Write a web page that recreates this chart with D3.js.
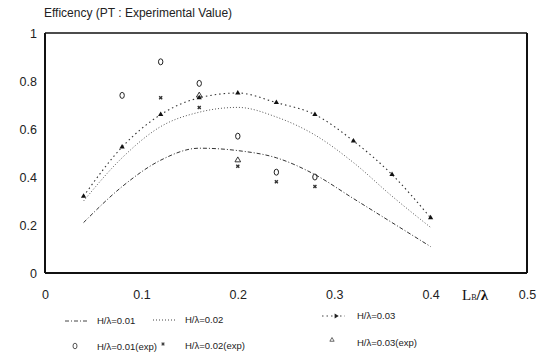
<!DOCTYPE html>
<html><head><meta charset="utf-8">
<script src="https://cdn.jsdelivr.net/npm/d3@7"></script>
<style>body{margin:0;background:#fff}svg{display:block}</style>
</head><body>
<svg id="c" width="542" height="362"></svg>
<script>
// ---- data ----
const xCalc = [0.04,0.08,0.12,0.16,0.20,0.24,0.28,0.32,0.36,0.40];
const calc01 = [0.21,0.36,0.47,0.52,0.51,0.48,0.41,0.31,0.21,0.11];
const calc02 = [0.30,0.48,0.61,0.67,0.69,0.65,0.575,0.46,0.32,0.19];
const calc03 = [0.32,0.525,0.66,0.73,0.75,0.71,0.66,0.55,0.41,0.23];
const xExp01 = [0.08,0.12,0.16,0.20,0.24,0.28];
const exp01  = [0.74,0.88,0.79,0.57,0.42,0.40];
const xExp02 = [0.12,0.16,0.20,0.24,0.28];
const exp02  = [0.73,0.69,0.445,0.38,0.36];
const xExp03 = [0.16,0.20];
const exp03  = [0.74,0.47];
const xTicks = [0,0.1,0.2,0.3,0.4,0.5];
const yTicks = [0,0.2,0.4,0.6,0.8,1];
const title = "Efficency (PT : Experimental Value)";
const legendLabels = ["H/λ=0.01","H/λ=0.02","H/λ=0.03","H/λ=0.01(exp)","H/λ=0.02(exp)","H/λ=0.03(exp)"];

const svg = d3.select("#c");
const x = d3.scaleLinear().domain([0,0.5]).range([45,527]);
const y = d3.scaleLinear().domain([0,1]).range([273,33]);
const font = "Arial, 'Liberation Sans', sans-serif";

// title
svg.append("text").attr("x",44).attr("y",17).attr("font-family",font)
  .attr("font-size",12).attr("fill","#222").text(title);

// frame
svg.append("line").attr("x1",x(0)).attr("x2",x(0.5)).attr("y1",y(1)).attr("y2",y(1)).attr("stroke","#111").attr("stroke-width",1.5);
svg.append("line").attr("x1",x(0)).attr("x2",x(0.5)).attr("y1",y(0)).attr("y2",y(0)).attr("stroke","#111").attr("stroke-width",2.2);
svg.append("line").attr("x1",x(0)).attr("x2",x(0)).attr("y1",y(0)).attr("y2",y(1)).attr("stroke","#111").attr("stroke-width",2);
svg.append("line").attr("x1",x(0.5)).attr("x2",x(0.5)).attr("y1",y(0)).attr("y2",y(1)).attr("stroke","#111").attr("stroke-width",2);

// axes (labels only)
const ya = svg.append("g").attr("transform",`translate(${x(0)},0)`)
  .call(d3.axisLeft(y).tickValues(yTicks).tickSize(0).tickPadding(8).tickFormat(d=>d3.format("")(d)));
ya.select(".domain").remove();
ya.selectAll("text").attr("font-family",font).attr("font-size",12.5).attr("fill","#222");

const xa = svg.append("g").attr("transform",`translate(0,${y(0)})`)
  .call(d3.axisBottom(x).tickValues(xTicks).tickSize(0).tickPadding(17).tickFormat(d=>d3.format("")(d)));
xa.select(".domain").remove();
xa.selectAll("text").attr("font-family",font).attr("font-size",12.5).attr("fill","#222");

// x axis title
const xt = svg.append("text").attr("x",462).attr("y",300).attr("font-family","'Liberation Serif', serif")
  .attr("font-size",15).attr("fill","#111");
xt.append("tspan").text("L");
xt.append("tspan").attr("font-size",8).text("B");
xt.append("tspan").attr("font-weight","bold").text("/λ");

// lines
const line = d3.line().x(d=>x(d[0])).y(d=>y(d[1])).curve(d3.curveMonotoneX);
const series = [
  {v:calc01, dash:"4,2,1,2", color:"#333", w:1},
  {v:calc02, dash:"1,2", color:"#555", w:1},
  {v:calc03, dash:"1.5,3", color:"#333", w:1.1}
];
series.forEach(s=>{
  svg.append("path").datum(xCalc.map((xx,i)=>[xx,s.v[i]]))
    .attr("d",line).attr("fill","none").attr("stroke",s.color)
    .attr("stroke-width",s.w).attr("stroke-dasharray",s.dash);
});
// markers on 0.03 curve
svg.selectAll(".m3").data(xCalc.map((xx,i)=>[xx,calc03[i]])).enter().append("path")
  .attr("transform",d=>`translate(${x(d[0])},${y(d[1])})`)
  .attr("d",d3.symbol(d3.symbolTriangle,12)).attr("fill","#111");

// exp markers
svg.selectAll(".e1").data(xExp01.map((xx,i)=>[xx,exp01[i]])).enter().append("ellipse")
  .attr("cx",d=>x(d[0])).attr("cy",d=>y(d[1])).attr("rx",2.2).attr("ry",3)
  .attr("fill","none").attr("stroke","#222").attr("stroke-width",1);
svg.selectAll(".e2").data(xExp02.map((xx,i)=>[xx,exp02[i]])).enter().append("path")
  .attr("transform",d=>`translate(${x(d[0])},${y(d[1])}) rotate(45)`)
  .attr("d",d3.symbol(d3.symbolCross,10)).attr("fill","#333");
svg.selectAll(".e3").data(xExp03.map((xx,i)=>[xx,exp03[i]])).enter().append("path")
  .attr("transform",d=>`translate(${x(d[0])},${y(d[1])})`)
  .attr("d",d3.symbol(d3.symbolTriangle,14)).attr("fill","none").attr("stroke","#222").attr("stroke-width",0.9);

// legend
const lf = 9.5;
const leg = [
  {sx:65, tx:97, y:324,type:"line",dash:"4,2,1,2"},
  {sx:153,tx:185,y:323,type:"line",dash:"1,2"},
  {sx:322,tx:357,y:319,type:"line3",dash:"1.5,3"},
  {sx:75, tx:97, y:350,type:"c"},
  {sx:163,tx:185,y:349,type:"x"},
  {sx:332,tx:357,y:346,type:"t"}
];
leg.forEach((l,i)=>{
  const g = svg.append("g");
  if(l.type==="line"||l.type==="line3"){
    g.append("line").attr("x1",l.sx).attr("x2",l.sx+23).attr("y1",l.y-3).attr("y2",l.y-3)
      .attr("stroke","#444").attr("stroke-width",1).attr("stroke-dasharray",l.dash);
    if(l.type==="line3") g.append("path").attr("transform",`translate(${l.sx+14},${l.y-3}) rotate(90)`)
      .attr("d",d3.symbol(d3.symbolTriangle,10)).attr("fill","#222");
  } else if(l.type==="c"){
    g.append("ellipse").attr("cx",l.sx).attr("cy",l.y-4).attr("rx",2).attr("ry",2.8)
      .attr("fill","none").attr("stroke","#444").attr("stroke-width",0.9);
  } else if(l.type==="x"){
    g.append("path").attr("transform",`translate(${l.sx},${l.y-5}) rotate(45)`)
      .attr("d",d3.symbol(d3.symbolCross,8)).attr("fill","#444");
  } else {
    g.append("path").attr("transform",`translate(${l.sx},${l.y-6})`)
      .attr("d",d3.symbol(d3.symbolTriangle,8)).attr("fill","none").attr("stroke","#444").attr("stroke-width",0.8);
  }
  g.append("text").attr("x",l.tx).attr("y",l.y).attr("font-family",font)
    .attr("font-size",lf).attr("fill","#222").text(legendLabels[i]);
});
</script>
</body></html>
